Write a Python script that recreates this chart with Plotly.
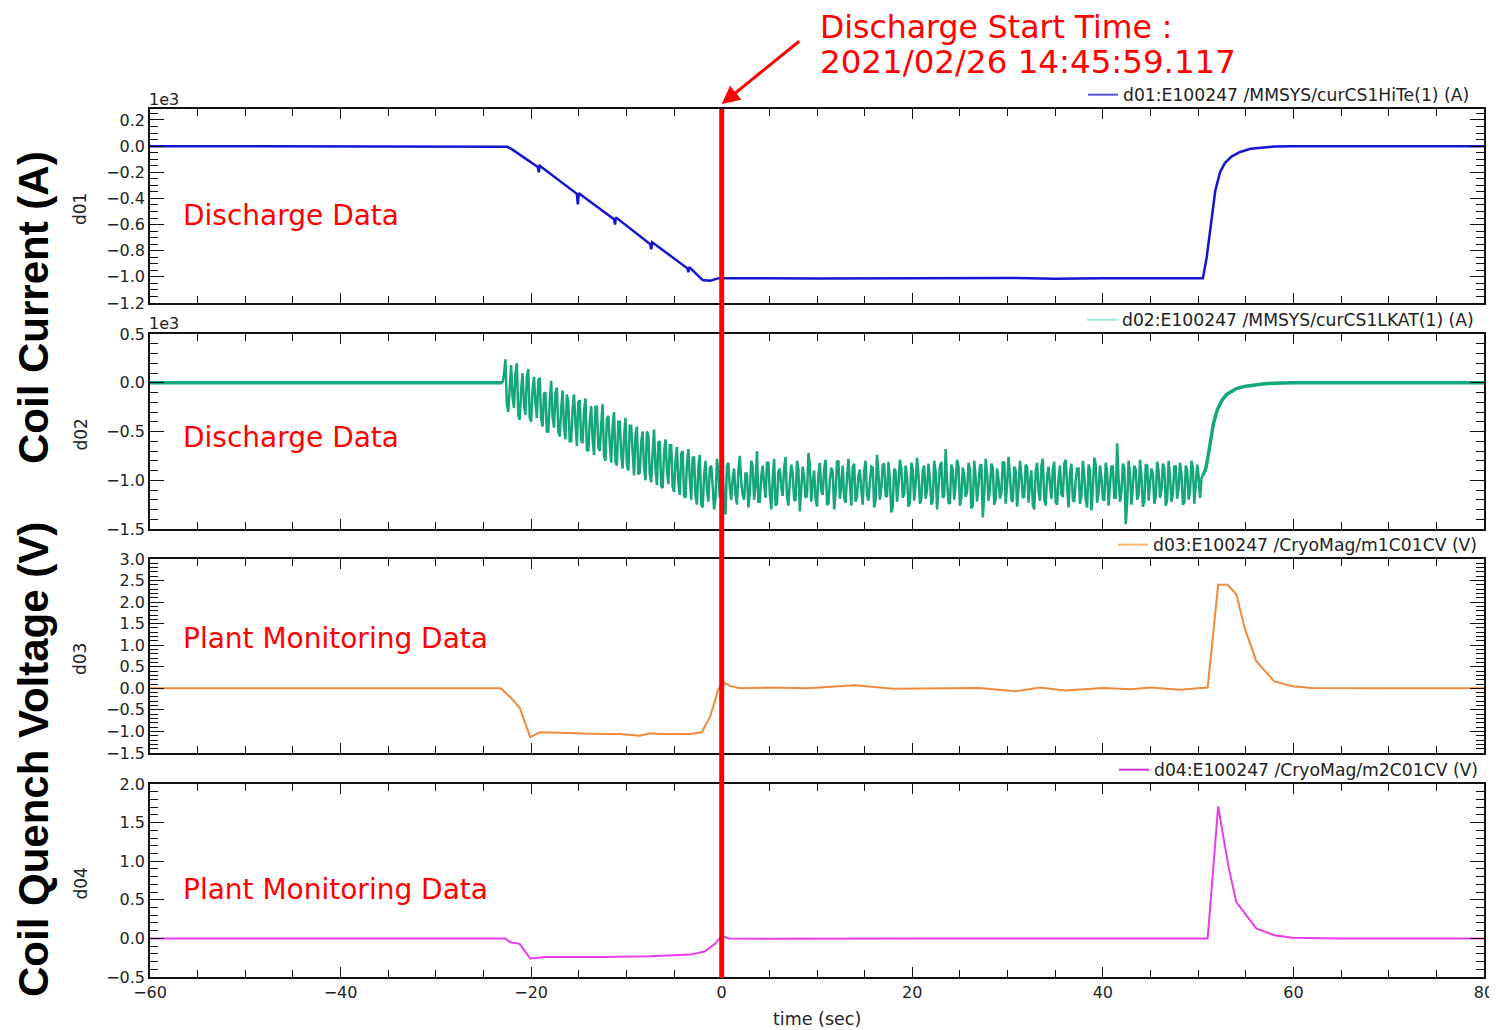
import numpy as np
import plotly.graph_objects as go

# page is shown with an 8px body margin; figure sized to fill the rest of the window
OFF = 8
W, H = 1497 - OFF, 1030 - OFF

# ---------------- data ----------------
time_range = [-60, 80]
discharge_t = 0.0

# d01 coil current (units of 1e3 A)
d01_t = [-60, -23.0, -22.5, -22.0, -19.3, -19.2, -19.1, -15.2, -15.1, -15.0,
         -11.3, -11.2, -11.1, -7.5, -7.4, -7.3, -3.6, -3.5, -3.4, -2.0, -1.2,
         -0.3, 10, 30, 35, 40, 50.5, 50.9, 51.3, 51.8, 52.3, 52.8, 53.5, 54.4,
         55.5, 56.5, 58, 60, 80]
d01_v = [0, 0, -0.005, -0.025, -0.160, -0.200, -0.150, -0.365, -0.445, -0.360,
         -0.560, -0.600, -0.545, -0.750, -0.790, -0.735, -0.935, -0.965, -0.925,
         -1.025, -1.030, -1.010, -1.012, -1.008, -1.015, -1.010, -1.010, -0.850,
         -0.640, -0.340, -0.200, -0.130, -0.080, -0.045, -0.020, -0.012, -0.003,
         0, 0]

# d02 coil current (units of 1e3 A)
d02_pre_t = [-60, -23.0]
d02_pre_v = [0.0, 0.0]
# noisy part: samples A every 0.3 s from -23.0 s, samples B every 0.3 s from -22.85 s
d02_a_t0, d02_b_t0, d02_dt = -23.0, -22.85, 0.3
d02_a_v = [
    0.00, 0.24, -0.30, 0.18, -0.26, 0.20, -0.38, 0.10, -0.33, 0.14,
    -0.40, 0.06, -0.36, 0.05, -0.45, -0.10, -0.50, 0.02, -0.46, -0.05,
    -0.55, -0.08, -0.58, -0.20, -0.60, -0.12, -0.65, -0.18, -0.62, -0.16,
    -0.70, -0.24, -0.74, -0.25, -0.70, -0.22, -0.80, -0.34, -0.82, -0.30,
    -0.85, -0.40, -0.88, -0.36, -0.90, -0.44, -0.95, -0.45, -0.92, -0.50,
    -1.00, -0.54, -1.02, -0.48, -1.05, -0.60, -1.08, -0.58, -1.04, -0.64,
    -1.12, -0.66, -1.15, -0.70, -1.18, -0.68, -1.20, -0.76, -1.25, -0.74,
    -1.28,
    -0.80, -1.22, -0.85, -1.30, -0.78, -1.18, -0.90, -1.35, -0.82, -1.20,
    -0.88, -1.25, -0.75, -1.15, -0.92, -1.28, -0.80, -1.20, -0.70, -1.22,
    -0.85, -1.18, -0.82, -1.30, -0.78, -1.24, -0.88, -1.16, -0.76, -1.26,
    -0.84, -1.20, -0.80, -1.32, -0.86, -1.18, -0.72, -1.22, -0.90, -1.27,
    -0.82, -1.15, -0.79, -1.24, -0.87, -1.30, -0.81, -1.19, -0.85, -1.23,
    -0.78, -1.26, -0.83, -1.17, -0.89, -1.25, -0.80, -1.21, -0.86, -1.28,
    -0.74, -1.20, -0.84, -1.16, -0.81, -1.33, -0.88, -1.22, -0.79, -1.18,
    -0.85, -1.27, -0.82, -1.21, -0.77, -1.24, -0.90, -1.19, -0.83, -1.25,
    -0.80, -1.30, -0.86, -1.18, -0.68, -1.23, -0.84, -1.20, -0.79, -1.26,
    -0.87, -1.17, -0.82, -1.29, -0.80, -1.22, -0.85, -1.38, -0.78, -1.21,
    -0.83, -1.25, -0.88, -1.19, -0.81, -1.24, -0.76, -1.20, -0.86, -1.27,
    -0.80, -1.18, -0.84, -1.23, -0.90, -1.30, -0.82, -1.21, -0.78, -1.26,
    -0.86, -1.19, -0.81, -1.25, -0.85, -1.17, -0.79, -1.28, -0.83, -1.22,
    -0.88, -1.24, -0.80, -1.20, -0.84, -1.31, -0.77, -1.23, -0.85, -1.19,
    -0.82, -1.26, -0.86, -1.18, -0.62, -1.22, -0.83, -1.45, -0.80, -1.25,
    -0.85, -1.20, -0.79, -1.27, -0.84, -1.21, -0.88, -1.24, -0.81, -1.18,
    -0.83, -1.26, -0.80, -1.22, -0.86, -1.19, -0.82, -1.25,
    -0.85, -1.20, -0.80, -1.24, -0.84, -1.18, -0.95,
]
d02_b_v = [
    0.09, -0.22, 0.01, -0.15, 0.09, -0.33, -0.07, -0.23, 0.06, -0.36,
    -0.07, -0.21, 0.02, -0.37, -0.11, -0.50, -0.19, -0.35, -0.10, -0.50,
    -0.27, -0.46, -0.12, -0.60, -0.27, -0.41, -0.20, -0.59, -0.29, -0.69,
    -0.40, -0.57, -0.24, -0.66, -0.43, -0.75, -0.37, -0.62, -0.45, -0.81,
    -0.40, -0.73, -0.56, -0.84, -0.44, -0.71, -0.54, -0.94, -0.61, -0.87,
    -0.50, -0.94, -0.72, -0.88, -0.61, -1.06, -0.71, -0.90, -0.64, -1.07,
    -0.80, -1.03, -0.73, -1.16, -0.83, -0.99, -0.77, -1.16, -0.86, -1.25,
    -0.95, -1.10, -0.88, -1.05, -1.18, -0.92, -1.00, -1.24, -0.85, -1.08,
    -0.98, -1.15, -0.90, -1.02, -1.20, -0.94, -1.12, -0.86, -1.06, -1.22,
    -0.96, -1.04, -0.82, -1.14, -0.99, -1.26, -0.91, -1.07, -0.87, -1.17,
    -1.01, -0.93, -1.21, -0.89, -1.09, -0.97, -1.16, -0.84, -1.03, -1.19,
    -0.94, -1.11, -0.88, -1.25, -1.00, -0.92, -1.13, -0.80, -1.06, -1.18,
    -0.97, -1.03, -0.86, -1.22, -0.95, -1.10, -0.90, -1.15, -1.02, -0.87,
    -1.20, -0.93, -1.08, -0.83, -1.17, -0.99, -1.27, -0.91, -1.05, -0.88,
    -1.14, -0.96, -1.23, -0.89, -1.04, -0.94, -1.19, -0.85, -1.10, -0.98,
    -1.21, -0.92, -1.07, -0.81, -1.16, -1.00, -1.24, -0.90, -1.03, -0.86,
    -1.18, -0.95, -1.12, -0.88, -1.26, -0.97, -1.06, -0.84, -1.15, -0.93,
    -1.09, -0.87, -1.20, -0.99, -1.13, -0.82, -1.05, -0.95, -1.22, -0.90,
    -1.08, -0.94, -1.17, -0.86, -1.02, -1.25, -0.91, -1.11, -0.85, -1.19,
    -0.96, -1.04, -0.89, -1.23, -0.98, -1.14, -0.83, -1.07, -0.93, -1.20,
    -1.00, -0.88, -1.16, -0.95, -1.28, -0.90, -1.09, -0.84, -1.13, -0.97,
    -1.21, -0.92, -1.05, -0.86, -1.18, -0.99, -1.12, -0.87, -1.24, -0.94,
    -1.06, -0.89, -1.15, -0.96, -1.22, -0.85, -1.03, -0.93, -1.17, -0.91,
    -1.10, -0.88, -1.20, -0.97, -1.14,
    -0.86, -1.08, -0.94, -1.23, -0.90, -1.12, -0.87, -1.05, -0.96, -0.98,
]
d02_post_t = [50.5, 50.8, 51.0, 51.3, 51.6, 52.0, 52.5, 53.0, 54.0, 55.0, 56.0,
              57.0, 58.0, 60.0, 80.0]
d02_post_v = [-0.95, -0.88, -0.78, -0.60, -0.42, -0.28, -0.18, -0.12, -0.06,
              -0.035, -0.02, -0.01, -0.005, 0.0, 0.0]

# d03 coil quench voltage (V)
d03_t = [-60, -23.2, -22.2, -21.2, -20.1, -19.1, -17.0, -14.9, -12.8, -10.7,
         -8.6, -7.5, -6.5, -3.3, -2.1, -1.2, -0.4, 0.1, 0.9, 1.9, 5, 9, 14, 18,
         22, 27, 30.8, 33.4, 36, 40, 43, 45, 48.1, 51.0, 52.1, 53.1, 54.0, 54.9,
         56.1, 58.0, 59.9, 62.0, 70, 80]
d03_v = [0, 0, -0.2, -0.45, -1.13, -1.02, -1.03, -1.05, -1.06, -1.06, -1.10,
         -1.04, -1.06, -1.06, -1.02, -0.65, -0.05, 0.15, 0.05, 0.0, 0.02, 0.0,
         0.07, -0.01, 0.0, 0.01, -0.07, 0.02, -0.05, 0.01, -0.02, 0.02, -0.03,
         0.02, 2.40, 2.40, 2.18, 1.39, 0.63, 0.16, 0.05, 0.01, 0.0, 0.0]

# d04 coil quench voltage (V)
d04_t = [-60, -23.2, -22.7, -22.2, -21.2, -20.1, -18.5, -12.8, -7.5, -3.3,
         -1.8, -0.7, 0.0, 0.8, 5, 20, 40, 51.0, 52.1, 53.2, 54.0, 56.1, 58.0,
         59.9, 65, 80]
d04_v = [0, 0, 0.0, -0.05, -0.07, -0.26, -0.24, -0.24, -0.23, -0.21, -0.17,
         -0.07, 0.03, 0.0, -0.005, 0.0, 0.0, 0.0, 1.71, 0.92, 0.47, 0.13, 0.04,
         0.01, 0.0, 0.0]

legend_names = ["d01:E100247 /MMSYS/curCS1HiTe(1) (A)",
                "d02:E100247 /MMSYS/curCS1LKAT(1) (A)",
                "d03:E100247 /CryoMag/m1C01CV (V)",
                "d04:E100247 /CryoMag/m2C01CV (V)"]
axis_names = ["d01", "d02", "d03", "d04"]
panel_labels = ["Discharge Data", "Discharge Data",
                "Plant Monitoring Data", "Plant Monitoring Data"]
y_ranges = [[-1.2, 0.284], [-1.5, 0.5], [-1.5, 3.0], [-0.5, 2.0]]
y_dticks = [0.2, 0.5, 0.5, 0.5]
y_minor = [0.05, 0.1, 0.1, 0.1]
x_ticks_major = 20
x_ticks_minor = 5

# ---------------- styles ----------------
line_colors = ["#1414d2", "#14a67c", "#f08a3c", "#e83ee8"]
legend_colors = ["#5a50d0", "#a0e4dc", "#f5b870", "#d030d0"]
FONT = "DejaVu Sans"

# panel extents in page pixels (top, bottom)
panels_px = [(109, 303), (334, 529), (559, 753), (784, 977)]
x_left, x_right = 150, 1484


def px(p):
    return (p - OFF) / W


def py(p):
    return 1 - (p - OFF) / H


fig = go.Figure()

d02_t_all = np.concatenate([d02_a_t0 + d02_dt * np.arange(len(d02_a_v)),
                            d02_b_t0 + d02_dt * np.arange(len(d02_b_v))])
d02_v_all = np.concatenate([np.array(d02_a_v), np.array(d02_b_v)])
order = np.argsort(d02_t_all, kind="stable")
d02_noisy_t = d02_t_all[order]
d02_noisy_v = d02_v_all[order]

series = [
    [(d01_t, d01_v, 2.5)],
    [(d02_pre_t, d02_pre_v, 3.5), (d02_noisy_t, d02_noisy_v, 2.5),
     (d02_post_t, d02_post_v, 3.5)],
    [(d03_t, d03_v, 2.0)],
    [(d04_t, d04_v, 2.0)],
]

for i in range(4):
    xa = "x" if i == 0 else f"x{i+1}"
    ya = "y" if i == 0 else f"y{i+1}"
    lg = "legend" if i == 0 else f"legend{i+1}"
    for (tt, vv, w) in series[i]:
        fig.add_trace(go.Scatter(x=tt, y=vv, mode="lines", xaxis=xa, yaxis=ya,
                                 line=dict(color=line_colors[i], width=w),
                                 showlegend=False, hoverinfo="skip"))
    fig.add_trace(go.Scatter(x=[None], y=[None], mode="lines", xaxis=xa, yaxis=ya,
                             line=dict(color=legend_colors[i], width=2),
                             name=legend_names[i], showlegend=True, legend=lg))

layout = dict(
    width=W, height=H, autosize=False,
    margin=dict(l=0, r=0, t=0, b=0, pad=0),
    paper_bgcolor="white", plot_bgcolor="white",
    font=dict(family=FONT, size=16, color="#222"),
    showlegend=True,
)

legend_right = [1475, 1479, 1483, 1484]
for i in range(4):
    top, bot = panels_px[i]
    xk = "xaxis" if i == 0 else f"xaxis{i+1}"
    yk = "yaxis" if i == 0 else f"yaxis{i+1}"
    ya = "y" if i == 0 else f"y{i+1}"
    xa = "x" if i == 0 else f"x{i+1}"
    layout[xk] = dict(
        domain=[px(x_left), px(x_right)], range=time_range, anchor=ya,
        showline=True, mirror="ticks", linecolor="#111", linewidth=1.5,
        ticks="inside", ticklen=10, tickwidth=1, tickcolor="#111",
        dtick=x_ticks_major, tick0=0,
        minor=dict(dtick=x_ticks_minor, ticklen=7, ticks="inside", tickcolor="#111"),
        showgrid=False, zeroline=False, automargin=False,
        showticklabels=(i == 3),
        tickfont=dict(size=16, family=FONT, color="#222"),
        matches=None if i == 0 else "x",
    )
    layout[yk] = dict(
        domain=[py(bot), py(top)], range=y_ranges[i], anchor=xa,
        showline=True, mirror="ticks", linecolor="#111", linewidth=1.5,
        ticks="inside", ticklen=14, tickwidth=1, tickcolor="#111",
        dtick=y_dticks[i], tick0=0, tickformat=".1f",
        minor=dict(dtick=y_minor[i], ticklen=8, ticks="inside", tickcolor="#111"),
        showgrid=False, zeroline=False, automargin=False,
        tickfont=dict(size=16, family=FONT, color="#222"),
    )
    lgk = "legend" if i == 0 else f"legend{i+1}"
    layout[lgk] = dict(
        x=px(legend_right[i]), xanchor="right", y=py(top + 4), yanchor="bottom",
        bgcolor="rgba(0,0,0,0)", borderwidth=0,
        font=dict(size=17.2, family=FONT, color="#222"),
        itemwidth=30,
    )

annotations = []
for i in range(4):
    top, bot = panels_px[i]
    annotations.append(dict(xref="paper", yref="paper", x=px(80), y=py((top + bot) / 2 + 3),
                            text=axis_names[i], textangle=-90, showarrow=False,
                            font=dict(size=17, family=FONT, color="#222"),
                            xanchor="center", yanchor="middle"))
    annotations.append(dict(xref="paper", yref="paper", x=px(181),
                            y=py([215, 437, 638, 889][i]),
                            text=panel_labels[i], showarrow=False,
                            font=dict(size=28, family=FONT, color="#ff0000"),
                            xanchor="left", yanchor="middle"))
for ycen in (99, 323):
    annotations.append(dict(xref="paper", yref="paper", x=px(147), y=py(ycen),
                            text="1e3", showarrow=False,
                            font=dict(size=16, family=FONT, color="#222"),
                            xanchor="left", yanchor="middle"))
annotations.append(dict(xref="paper", yref="paper", x=px(817), y=py(1019),
                        text="time (sec)", showarrow=False,
                        font=dict(size=17.5, family=FONT, color="#222"),
                        xanchor="center", yanchor="middle"))
annotations.append(dict(xref="paper", yref="paper", x=px(33), y=py(308),
                        text="<b>Coil Current (A)</b>", textangle=-90, showarrow=False,
                        font=dict(size=42, family="Liberation Sans", color="#000"),
                        xanchor="center", yanchor="middle"))
annotations.append(dict(xref="paper", yref="paper", x=px(33), y=py(760),
                        text="<b>Coil Quench Voltage (V)</b>", textangle=-90, showarrow=False,
                        font=dict(size=42, family="Liberation Sans", color="#000"),
                        xanchor="center", yanchor="middle"))
annotations.append(dict(xref="paper", yref="paper", x=px(819), y=py(27),
                        text="Discharge Start Time :", showarrow=False,
                        font=dict(size=31.5, family=FONT, color="#ff0000"),
                        xanchor="left", yanchor="middle", borderpad=0))
annotations.append(dict(xref="paper", yref="paper", x=px(819), y=py(62),
                        text="2021/02/26 14:45:59.117", showarrow=False,
                        font=dict(size=32.5, family=FONT, color="#ff0000"),
                        xanchor="left", yanchor="middle", borderpad=0))
annotations.append(dict(xref="x", yref="paper", x=discharge_t, y=py(104),
                        text="", showarrow=True, ax=79, ay=-64,
                        arrowhead=2, arrowsize=1.2, arrowwidth=3, arrowcolor="#ff0000"))
layout["annotations"] = annotations

layout["shapes"] = [dict(type="line", xref="x4", yref="paper",
                         x0=discharge_t, x1=discharge_t, y0=py(978), y1=py(109),
                         line=dict(color="#ff0000", width=5))]

fig.update_layout(**layout)
fig.write_html("out.html")
